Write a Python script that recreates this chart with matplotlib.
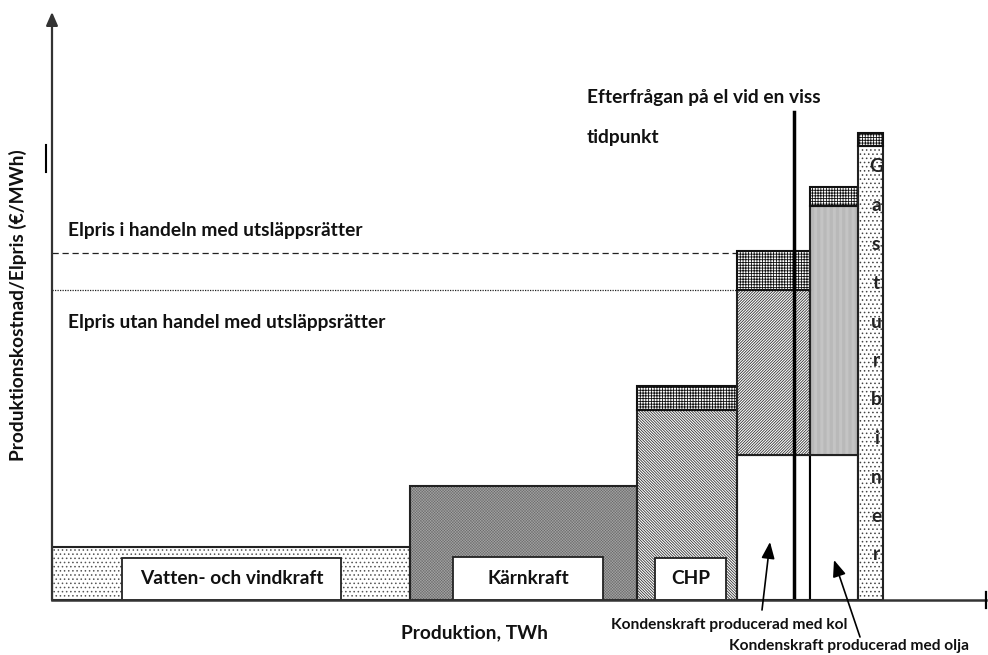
import matplotlib
matplotlib.use("Agg")
import matplotlib.pyplot as plt
from matplotlib.patches import Rectangle

plt.rcParams['font.family'] = ['Lato', 'DejaVu Sans']
plt.rcParams['hatch.linewidth'] = 0.6

# ---- data (arbitrary units) ----
categories = ["Vatten- och vindkraft", "Kärnkraft", "CHP",
              "Kondenskraft kol", "Kondenskraft olja", "Gasturbiner"]
widths = [35.8, 22.7, 10.0, 7.3, 4.8, 2.5]          # Produktion, TWh
white_base = [0, 0, 0, 29.0, 29.0, 0]               # unlabelled lower part
base_cost = [10.6, 22.8, 38.0, 62.0, 78.8, 90.8]    # cost without emission rights
emission_cost = [0, 0, 4.8, 7.8, 3.8, 2.6]          # added cost of emission rights
price_with_trade = 69.4
price_without_trade = 62.0
demand = 74.2
demand_top = 97.6
label_boxes = {"Vatten- och vindkraft": (7.0, 28.9, 8.4),
               "Kärnkraft": (40.1, 55.1, 8.6),
               "CHP": (60.3, 67.4, 8.4)}

hatch_styles = [
    dict(face="white", hatch="....", hc="#555555", lw=0.6),
    dict(face="#a4a4a4", hatch="xxxxxxxxxxxx", hc="#666666", lw=0.3),
    dict(face="white", hatch="\\" * 12, hc="#333333", lw=0.6),
    dict(face="white", hatch="/" * 12, hc="#333333", lw=0.6),
    dict(face="#dadada", hatch="|" * 14, hc="#a0a0a0", lw=0.4),
    dict(face="white", hatch="....", hc="#444444", lw=0.6),
]

W, H = 988, 655
fig = plt.figure(figsize=(W / 100, H / 100), dpi=100)
ax = fig.add_axes([52 / W, 55 / H, (W - 52) / W, (600 - 12) / H])
ax.set_xlim(0, 93.6)
ax.set_ylim(0, 117.6)
ax.axis("off")

FS = 13.8
x0 = 0.0
for cat, w, wb, bc, ec, st in zip(categories, widths, white_base, base_cost,
                                   emission_cost, hatch_styles):
    if wb > 0:
        ax.add_patch(Rectangle((x0, 0), w, wb, facecolor="white",
                               edgecolor="black", lw=1.5, zorder=2))
    with plt.rc_context({'hatch.linewidth': st["lw"]}):
        ax.add_patch(Rectangle((x0, wb), w, bc - wb, facecolor=st["face"],
                               edgecolor=st["hc"], hatch=st["hatch"], lw=0, zorder=2))
    ax.add_patch(Rectangle((x0, wb), w, bc - wb, fill=False,
                           edgecolor="#222222", lw=1.5, zorder=3))
    if ec > 0:
        with plt.rc_context({'hatch.linewidth': 0.6}):
            ax.add_patch(Rectangle((x0, bc), w, ec, facecolor="white",
                                   edgecolor="#111111", hatch="++++++", lw=0, zorder=2))
        ax.add_patch(Rectangle((x0, bc), w, ec, fill=False,
                               edgecolor="#111111", lw=1.5, zorder=3))
    if cat in label_boxes:
        a, b, h = label_boxes[cat]
        ax.add_patch(Rectangle((a, 0), b - a, h, facecolor="white",
                               edgecolor="#222222", lw=1.3, zorder=4))
        ax.text((a + b) / 2, h / 2, cat, ha="center", va="center",
                fontsize=FS, fontweight="bold", zorder=5, color="#111111")
    x0 += w

# gas turbine vertical label
gas_x = sum(widths[:5]) + widths[5] * 0.72
for i, ch in enumerate("Gasturbiner"):
    ax.text(gas_x, 86.6 - i * 7.76, ch, ha="center", va="center",
            fontsize=FS, fontweight="bold", zorder=5, color="#222222")

# price lines
chp_end = sum(widths[:3])
ax.plot([0, chp_end], [price_with_trade] * 2, color="#222222", lw=0.9,
        ls=(0, (5, 3)), zorder=1)
ax.plot([0, chp_end], [price_without_trade] * 2, color="#222222", lw=0.9,
        ls=(0, (1, 1)), zorder=1)

# demand line
ax.plot([demand, demand], [0, demand_top], color="black", lw=2.5, zorder=6)

# axes with arrows
ax.annotate("", xy=(0, 117.6), xytext=(0, 0),
            arrowprops=dict(arrowstyle="-|>,head_length=0.8,head_width=0.35",
                            color="#333333", lw=1.6, shrinkA=0, shrinkB=0),
            annotation_clip=False, zorder=7)
ax.plot([0, 93.4], [0, 0], color="#333333", lw=1.8, zorder=7, clip_on=False)
ax.plot([93.4, 93.4], [-1.6, 1.6], color="black", lw=1.6, zorder=7, clip_on=False)

# texts
tkw = dict(fontsize=FS, fontweight="bold", color="#111111")
ax.text(1.6, 73.8, "Elpris i handeln med utsläppsrätter", va="center", **tkw)
ax.text(1.6, 55.4, "Elpris utan handel med utsläppsrätter", va="center", **tkw)
ax.text(53.5, 100.4, "Efterfrågan på el vid en viss", va="center", **tkw)
ax.text(53.5, 92.4, "tidpunkt", va="center", **tkw)

fig.text(18 / W, 1 - 305 / H, "Produktionskostnad/Elpris (€/MWh)", rotation=90,
         ha="center", va="center", **tkw)
fig.text(474 / W, 1 - 633 / H, "Produktion, TWh", ha="center", va="center", **tkw)
fig.lines.append(plt.Line2D([46 / W, 46 / W], [1 - 145 / H, 1 - 172 / H],
                            transform=fig.transFigure, color="black", lw=1.5))

skw = dict(fontsize=11.2, fontweight="bold", color="#111111")
ax.annotate("", xy=(71.8, 11.6), xytext=(71.0, -2.0),
            arrowprops=dict(arrowstyle="-|>,head_length=1.0,head_width=0.4",
                            color="black", lw=1.2, shrinkA=0, shrinkB=0),
            annotation_clip=False, zorder=8)
ax.annotate("", xy=(78.2, 8.0), xytext=(80.8, -7.4),
            arrowprops=dict(arrowstyle="-|>,head_length=1.0,head_width=0.4",
                            color="black", lw=1.2, shrinkA=0, shrinkB=0),
            annotation_clip=False, zorder=8)
fig.text(729 / W, 1 - 625 / H, "Kondenskraft producerad med kol",
         ha="center", va="center", **skw)
fig.text(849 / W, 1 - 646 / H, "Kondenskraft producerad med olja",
         ha="center", va="center", **skw)

fig.savefig("out.png", dpi=100)
